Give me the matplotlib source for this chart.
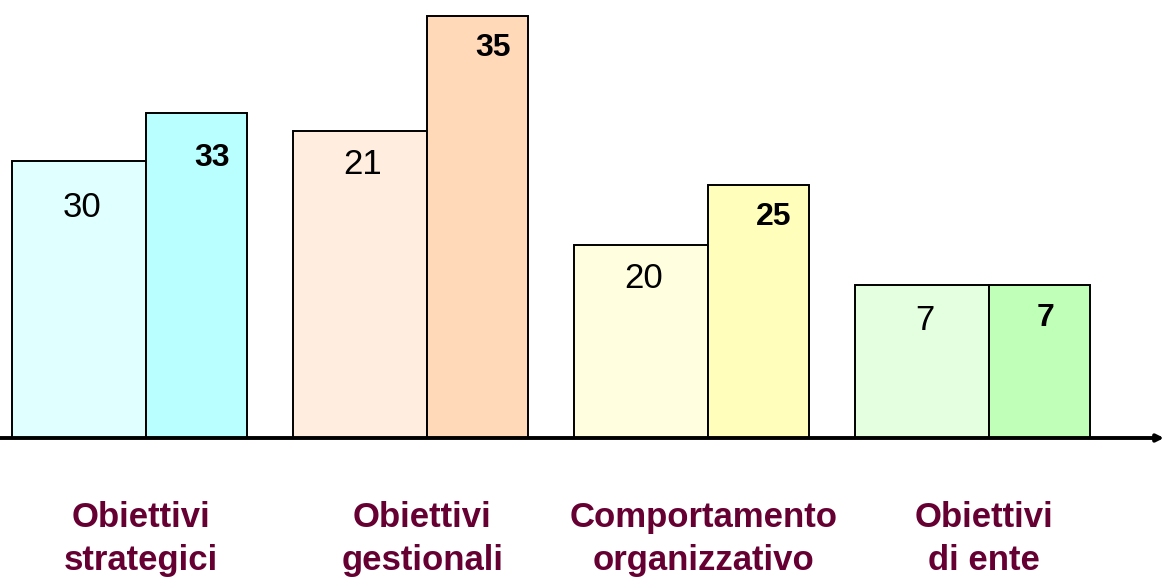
import matplotlib.pyplot as plt
import numpy as np

# categorie e valori (coppia di barre per ogni categoria)
categorie = ["Obiettivi\nstrategici", "Obiettivi\ngestionali",
             "Comportamento\norganizzativo", "Obiettivi\ndi ente"]
valori_prima = [30, 21, 20, 7]
valori_dopo = [33, 35, 25, 7]
# altezza grafica delle barre come appare nel disegno (non proporzionale ai valori)
altezza_prima = [27.7, 30.7, 19.3, 15.3]
altezza_dopo = [32.5, 42.2, 25.3, 15.3]

colori_prima = ["#E0FFFF", "#FFEEDF", "#FFFFE0", "#E3FFE0"]
colori_dopo = ["#B9FFFF", "#FFD9B8", "#FFFFBB", "#C0FFB8"]

fig = plt.figure(figsize=(11.64, 5.82), dpi=100)
ax = fig.add_axes([0, 0, 1, 1])
ax.set_xlim(-0.0427, 4.0996)
ax.set_ylim(-14.4, 43.8)
ax.axis("off")

x = np.arange(len(categorie))
w1, w2 = 0.477, 0.36
ax.bar(x, altezza_prima, width=w1, align="edge", color=colori_prima,
       edgecolor="black", linewidth=1.4, zorder=2)
ax.bar(x + w1, altezza_dopo, width=w2, align="edge", color=colori_dopo,
       edgecolor="black", linewidth=1.4, zorder=2)

# distanza dell'etichetta dal bordo superiore
scarto = [2.9, 1.6, 1.6, 1.7]
for i in range(len(categorie)):
    ax.text(x[i] + w1 / 2 + 0.01, altezza_prima[i] - scarto[i] - 0.15, str(valori_prima[i]),
            ha="center", va="top", fontsize=25, family="Liberation Sans", zorder=3)
    ax.text(x[i] + w1 + 0.17, altezza_dopo[i] - scarto[i] - 0.1, str(valori_dopo[i]),
            ha="left", va="top", fontsize=23, fontweight="bold",
            family="Liberation Sans", zorder=3)
    ax.text(x[i] + 0.46, -6.3, categorie[i], ha="center", va="top",
            fontsize=25, fontweight="bold", color="#660033",
            family="Liberation Sans", linespacing=1.38)

# asse orizzontale con freccia
ax.annotate("", xy=(4.0996, 0), xytext=(-0.0427, 0),
            arrowprops=dict(arrowstyle="-|>", lw=2.8, color="black",
                            mutation_scale=10, shrinkA=0, shrinkB=0), zorder=4)

fig.savefig("out.png", dpi=100)
